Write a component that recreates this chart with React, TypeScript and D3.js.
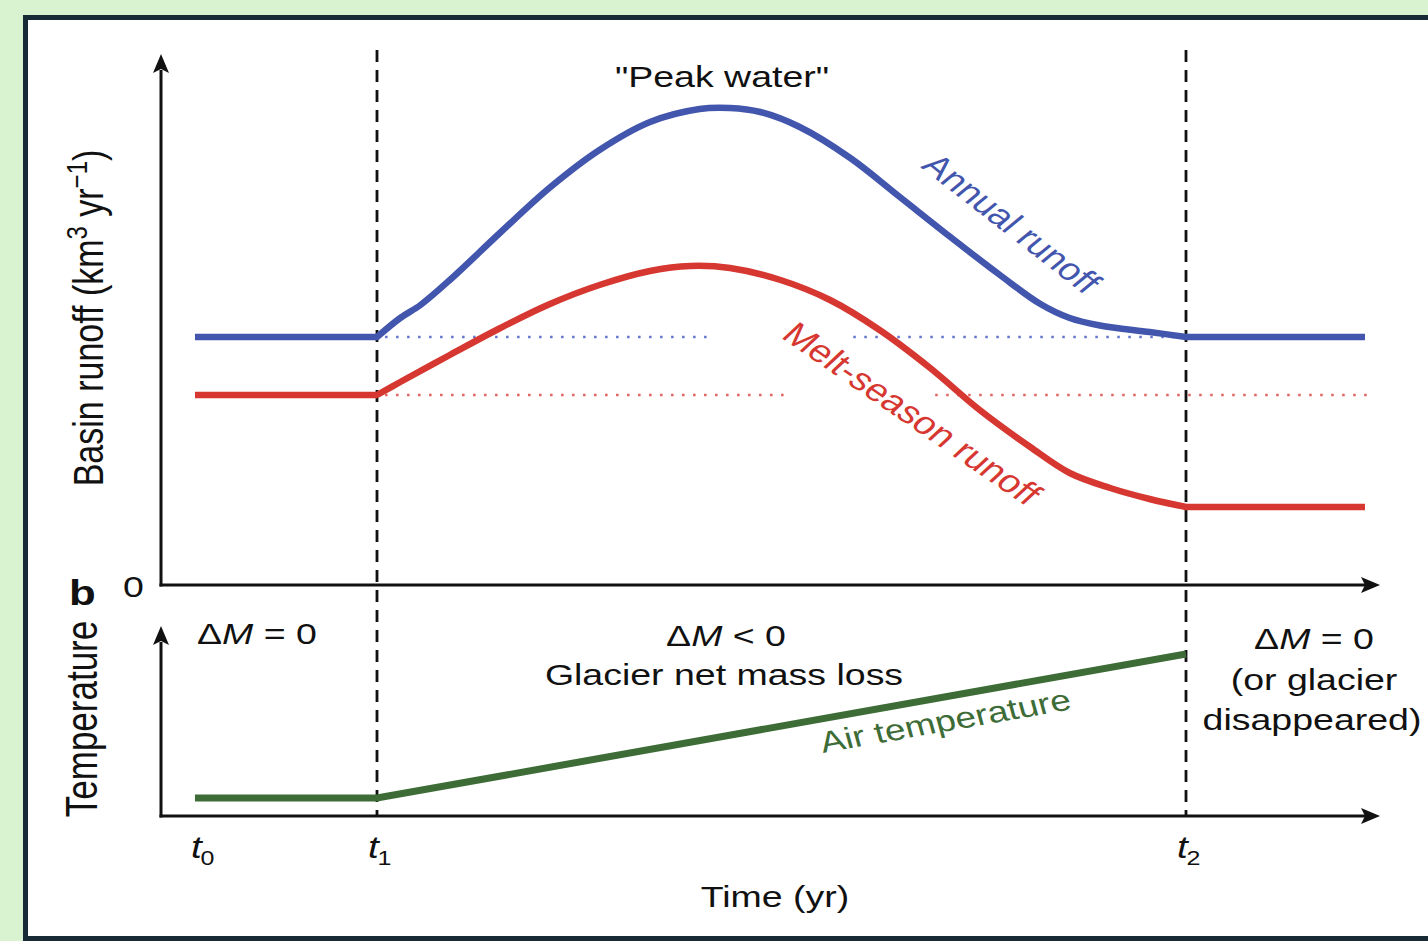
import React from "react";
import * as d3 from "d3";

// ---- data (time in arbitrary years, runoff in relative units) ----
const annualX = [2, 20, 22.3, 24.3, 27.2, 32.2, 37.1, 42, 47, 51.9, 54.9, 57.9, 61.8, 66.8, 71.7, 76.7, 81.6, 85.6, 88.5, 91.5, 96.4, 100, 117.7];
const annualY = [49.6, 49.6, 53.4, 56, 61, 70.5, 79.5, 87, 92.6, 95.2, 95.4, 94.6, 91.6, 85.4, 77.6, 69.6, 62, 56.2, 53.4, 51.9, 50.6, 49.6, 49.6];

const meltX = [2, 20, 22.3, 27.2, 32.2, 37.1, 42, 47, 51, 54.9, 59.9, 64.8, 69.7, 74.7, 79.6, 84.6, 88.5, 92.5, 96.4, 100, 117.7];
const meltY = [38, 38, 40.6, 46, 51.4, 56.2, 60, 62.8, 63.8, 63.4, 61, 57, 51, 43.4, 35, 27.6, 22.4, 19.4, 17.2, 15.6, 15.6];

const tempX = [2, 20, 100];
const tempY = [0.9, 0.9, 8.1];

// reference (pre-t1) levels drawn dotted
const annualRefSegments = [[20.8, 52.6], [67.1, 100]];
const meltRefSegments = [[20.8, 60.8], [75.2, 118]];

const timeTicks = [2.5, 20, 100];
const timeTickSubs = ["0", "1", "2"];
const dashedTimes = [20, 100];
const T1 = 20;
const T2 = 100;

const BLUE = "#4356ad";
const RED = "#d63731";
const GREEN = "#3d6c37";
const S = 1.25; // horizontal text stretch
const FONT = "'Liberation Sans', Arial, Helvetica, sans-serif";

export default function App() {
  const x = d3.scaleLinear().domain([20, 100]).range([377, 1186]);
  const yTop = d3.scaleLinear().domain([0, 100]).range([585, 85]);
  const yBot = d3.scaleLinear().domain([0, 10]).range([816, 616]);

  const curveLine = d3
    .line<[number, number]>()
    .x((d) => x(d[0]))
    .y((d) => yTop(d[1]))
    .curve(d3.curveCatmullRom.alpha(0.5));
  const straight = d3
    .line<[number, number]>()
    .x((d) => x(d[0]))
    .y((d) => yTop(d[1]));

  // flat before t1 and after t2, smooth in between
  const runoffPath = (pts: [number, number][]) => {
    const pre = pts.filter((p) => p[0] <= T1);
    const mid = pts.filter((p) => p[0] >= T1 && p[0] <= T2);
    const post = pts.filter((p) => p[0] >= T2);
    return (
      (straight(pre) ?? "") +
      (curveLine(mid) ?? "").replace(/^M/, "L") +
      (straight(post) ?? "").replace(/^M/, "L")
    );
  };

  const lineBot = d3
    .line<[number, number]>()
    .x((d) => x(d[0]))
    .y((d) => yBot(d[1]));

  const annual = annualX.map((v, i) => [v, annualY[i]] as [number, number]);
  const melt = meltX.map((v, i) => [v, meltY[i]] as [number, number]);
  const temp = tempX.map((v, i) => [v, tempY[i]] as [number, number]);

  const axX0 = 161;
  const axX1 = 1380;
  const arrow = (tx: number, ty: number, dir: "up" | "right") =>
    dir === "up"
      ? `M${tx},${ty} L${tx - 8},${ty + 19} L${tx},${ty + 15} L${tx + 8},${ty + 19} Z`
      : `M${tx},${ty} L${tx - 19},${ty - 8} L${tx - 15},${ty} L${tx - 19},${ty + 8} Z`;

  const txt = (
    key: string,
    xx: number,
    yy: number,
    content: React.ReactNode,
    opts: { size?: number; anchor?: string; rot?: number; fill?: string; weight?: string; style?: string } = {}
  ) => (
    <text
      key={key}
      transform={`translate(${xx},${yy}) scale(${S},1)${opts.rot ? ` rotate(${opts.rot})` : ""}`}
      fontSize={opts.size ?? 30}
      textAnchor={opts.anchor ?? "start"}
      fill={opts.fill ?? "#111"}
      fontWeight={opts.weight ?? "normal"}
      fontStyle={opts.style ?? "normal"}
      fontFamily={FONT}
    >
      {content}
    </text>
  );

  return (
    <svg width={1428} height={941} style={{ position: "absolute", left: 0, top: 0 }}>
      <rect x={0} y={0} width={1428} height={941} fill="#d9f2d0" />
      <rect x={25.5} y={17.5} width={1440} height={921} fill="#ffffff" stroke="#182a36" strokeWidth={5} />

      {/* dashed time markers */}
      {dashedTimes.map((t) => (
        <line key={"d" + t} x1={x(t)} x2={x(t)} y1={50} y2={815} stroke="#111" strokeWidth={2.8} strokeDasharray="12,8" />
      ))}

      {/* dotted reference levels */}
      {annualRefSegments.map((s, i) => (
        <line key={"ar" + i} x1={x(s[0])} x2={x(s[1])} y1={yTop(annualY[0])} y2={yTop(annualY[0])} stroke="#6575cc" strokeWidth={2.5} strokeDasharray="2.5,8.5" />
      ))}
      {meltRefSegments.map((s, i) => (
        <line key={"mr" + i} x1={x(s[0])} x2={x(s[1])} y1={yTop(meltY[0])} y2={yTop(meltY[0])} stroke="#e06460" strokeWidth={2.5} strokeDasharray="2.5,8.5" />
      ))}

      {/* axes */}
      <g stroke="#111" strokeWidth={3} fill="none">
        <line x1={axX0} x2={axX0} y1={586.5} y2={70} />
        <line x1={axX0 - 1.5} x2={axX1 - 15} y1={585} y2={585} />
        <line x1={axX0} x2={axX0} y1={817.5} y2={642} />
        <line x1={axX0 - 1.5} x2={axX1 - 15} y1={816} y2={816} />
      </g>
      <g fill="#111">
        <path d={arrow(axX0, 54, "up")} />
        <path d={arrow(axX1, 585, "right")} />
        <path d={arrow(axX0, 626, "up")} />
        <path d={arrow(axX1, 816, "right")} />
      </g>

      {/* curves */}
      <path d={runoffPath(annual)} fill="none" stroke={BLUE} strokeWidth={6.5} strokeLinejoin="round" />
      <path d={runoffPath(melt)} fill="none" stroke={RED} strokeWidth={6.5} strokeLinejoin="round" />
      <path d={lineBot(temp) ?? ""} fill="none" stroke={GREEN} strokeWidth={7} />

      {/* texts */}
      {txt("peak", 722, 87, '"Peak water"', { anchor: "middle" })}
      {txt("ann", 920, 167, "Annual runoff", { rot: 44.2, fill: BLUE, size: 31 })}
      {txt("melt", 780, 337, "Melt-season runoff", { rot: 40.7, fill: RED, size: 31.5 })}
      {txt("air", 823, 753, "Air temperature", { rot: -12.4, fill: GREEN, size: 29.7 })}

      {txt("b", 69, 605, "b", { size: 35, weight: "bold" })}
      {txt("zero", 123, 597, "0", { size: 30 })}

      {txt("dm0", 197, 644, <>{"Δ"}<tspan fontStyle="italic">M</tspan>{" = 0"}</>, { size: 30 })}
      {txt("dm1", 726, 646, <>{"Δ"}<tspan fontStyle="italic">M</tspan>{" < 0"}</>, { size: 30, anchor: "middle" })}
      {txt("gl", 724, 685, "Glacier net mass loss", { anchor: "middle" })}
      {txt("dm2", 1314, 649, <>{"Δ"}<tspan fontStyle="italic">M</tspan>{" = 0"}</>, { size: 30, anchor: "middle" })}
      {txt("og", 1314, 690, "(or glacier", { anchor: "middle" })}
      {txt("dis", 1312, 730, "disappeared)", { anchor: "middle" })}

      {timeTicks.map((t, i) =>
        txt(
          "t" + i,
          x(t) - 9,
          858,
          <>
            <tspan fontStyle="italic">t</tspan>
            <tspan fontSize={20} dy={7} dx={-1}>{timeTickSubs[i]}</tspan>
          </>,
          { size: 31 }
        )
      )}
      {txt("time", 775, 907, "Time (yr)", { anchor: "middle" })}

      {txt(
        "ylab",
        103,
        318,
        <>
          {"Basin runoff (km"}
          <tspan fontSize={24} dy={-13}>3</tspan>
          <tspan dy={13}>{" yr"}</tspan>
          <tspan fontSize={24} dy={-13}>{"−1"}</tspan>
          <tspan dy={13}>)</tspan>
        </>,
        { rot: -90, anchor: "middle", size: 34 }
      )}
      {txt("temp", 97, 719, "Temperature", { rot: -90, anchor: "middle", size: 35 })}
    </svg>
  );
}
